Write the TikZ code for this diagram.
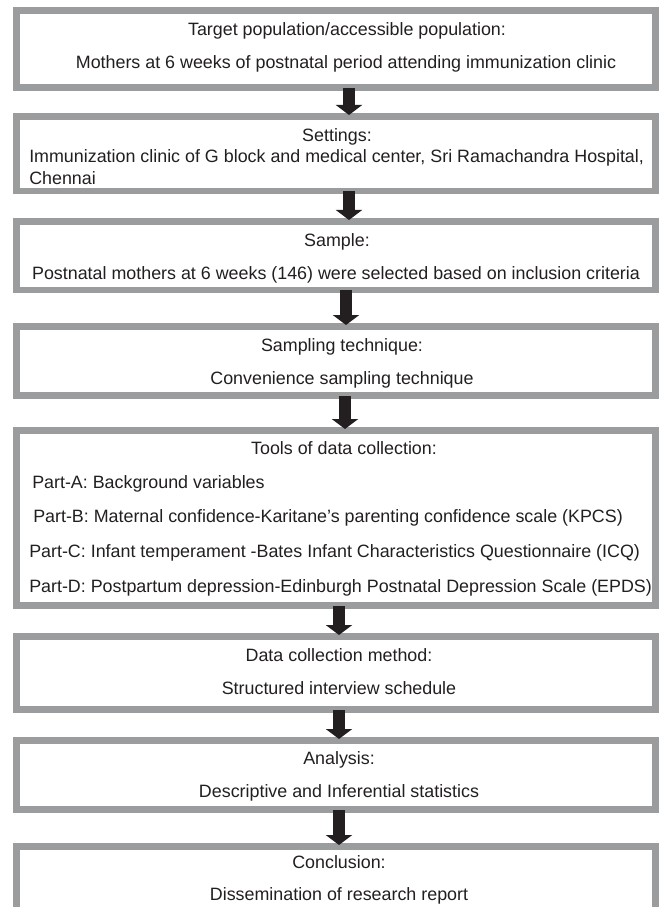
\documentclass[tikz,border=0pt]{standalone}
\usepackage{fontspec}
\setmainfont{Liberation Sans}
\usetikzlibrary{calc, arrows.meta}

\definecolor{framegray}{RGB}{155,156,158}
\definecolor{inkblack}{RGB}{35,31,32}

\tikzset{
	stagebox/.style={draw=framegray, line width=4.9pt, fill=white, inner sep=0pt, minimum width=479.6pt},
	linetext/.style={inner sep=0pt, anchor=base, text=inkblack, font=\fontsize{13.4}{16}\selectfont},
	leftline/.style={linetext, anchor=base west},
	flowarrow/.style={draw=inkblack, line width=9pt, -{Triangle[width=19.5pt, length=7.5pt]}}
}

\begin{document}
\begin{tikzpicture}[x=0.75pt, y=-0.75pt]
			\useasboundingbox (0,0) rectangle (659,907);
			\def\xc{336};
			
			% stages
			\node[stagebox, minimum height=58.1pt] (target) at (\xc,49) {};
			\node[stagebox, minimum height=55.9pt] (settings) at (\xc,153.5) {};
			\node[stagebox, minimum height=51.4pt] (sample) at (\xc,255.5) {};
			\node[stagebox, minimum height=52.1pt] (technique) at (\xc,361) {};
			\node[stagebox, minimum height=131.6pt] (tools) at (\xc,518) {};
			\node[stagebox, minimum height=55.1pt] (method) at (\xc,673) {};
			\node[stagebox, minimum height=52.1pt] (analysis) at (\xc,775) {};
			\node[stagebox, minimum height=56.6pt] (conclusion) at (\xc,884) {};
			
			% texts
			\node[linetext] (target-h) at (347,35) {Target population/accessible population:};
			\node[linetext] (target-t) at (346,68) {Mothers at 6 weeks of postnatal period attending immunization clinic};
			
			\node[linetext] (settings-h) at (337,141) {Settings:};
			\node[leftline] (settings-a) at (29,162.5) {Immunization clinic of G block and medical center, Sri Ramachandra Hospital,};
			\node[leftline] (settings-b) at (29,184) {Chennai};
			
			\node[linetext] (sample-h) at (337,246) {Sample:};
			\node[linetext] (sample-t) at (336,279) {Postnatal mothers at 6 weeks (146) were selected based on inclusion criteria};
			
			\node[linetext] (technique-h) at (342,351) {Sampling technique:};
			\node[linetext] (technique-t) at (342,384) {Convenience sampling technique};
			
			\node[linetext] (tools-h) at (344,454) {Tools of data collection:};
			\node[leftline] (tools-a) at (32,488) {Part-A: Background variables};
			\node[leftline] (tools-b) at (33,522) {Part-B: Maternal confidence-Karitane’s parenting confidence scale (KPCS)};
			\node[leftline] (tools-c) at (29,557) {Part-C: Infant temperament -Bates Infant Characteristics Questionnaire (ICQ)};
			\node[leftline] (tools-d) at (29,592) {Part-D: Postpartum depression-Edinburgh Postnatal Depression Scale (EPDS)};
			
			\node[linetext] (method-h) at (339,661) {Data collection method:};
			\node[linetext] (method-t) at (339,694) {Structured interview schedule};
			
			\node[linetext] (analysis-h) at (339,764) {Analysis:};
			\node[linetext] (analysis-t) at (339,797) {Descriptive and Inferential statistics};
			
			\node[linetext] (conclusion-h) at (339,868) {Conclusion:};
			\node[linetext] (conclusion-t) at (339,900) {Dissemination of research report};
			
			% arrows
			\foreach \a/\b/\dx in {target/settings/13, settings/sample/13, sample/technique/10, technique/tools/9, tools/method/3, method/analysis/3, analysis/conclusion/3}
				\draw[flowarrow] ($(\a.south)+(\dx,-3)$) -- ($(\b.north)+(\dx,2)$);
		\end{tikzpicture}
\end{document}
